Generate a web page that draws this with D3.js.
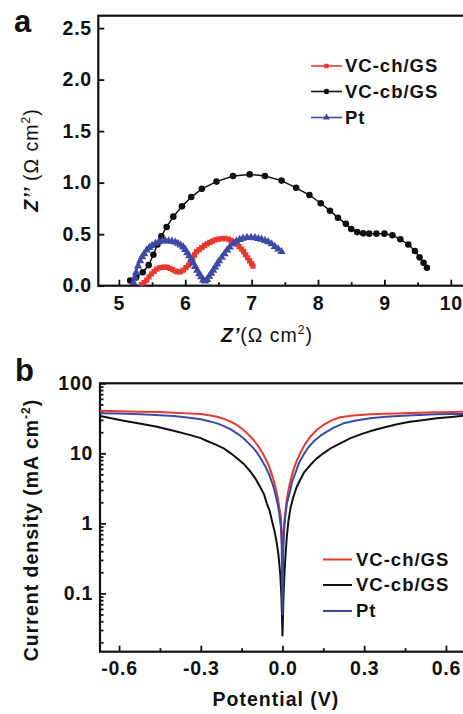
<!DOCTYPE html>
<html>
<head>
<meta charset="utf-8">
<script src="https://cdn.jsdelivr.net/npm/d3@7"></script>
<style>
  body { margin: 0; background: #fff; }
  svg { display: block; }
  text { font-family: "Liberation Sans", Arial, Helvetica, sans-serif; font-weight: bold; fill: #111; }
</style>
</head>
<body>
<svg id="chart" width="463" height="714"></svg>
<script>
// ---------- Panel a: Nyquist plots (Z' vs Z'') ----------
const seriesNames = ["VC-ch/GS", "VC-cb/GS", "Pt"];
const seriesColors = ["#e8392f", "#111111", "#3d4aa5"];

const chZre = [5.34,5.38,5.42,5.455,5.49,5.53,5.57,5.61,5.65,5.69,5.73,5.77,5.81,5.85,5.89,5.93,5.97,6.01,6.05,6.08,6.11,6.14,6.17,6.21,6.25,6.29,6.33,6.37,6.41,6.45,6.5,6.55,6.6,6.65,6.69,6.73,6.77,6.81,6.85,6.88,6.91,6.94,6.97,7.0,7.02];
const chZim = [0.01,0.03,0.055,0.085,0.115,0.14,0.16,0.172,0.178,0.18,0.177,0.168,0.155,0.142,0.135,0.137,0.152,0.175,0.2,0.235,0.265,0.3,0.33,0.35,0.37,0.39,0.405,0.42,0.432,0.445,0.452,0.457,0.458,0.452,0.44,0.425,0.405,0.38,0.355,0.33,0.3,0.27,0.24,0.215,0.19];

const cbZre = [5.17,5.26,5.36,5.45,5.52,5.58,5.64,5.72,5.82,5.95,6.09,6.25,6.47,6.72,6.97,7.2,7.45,7.67,7.87,8.04,8.18,8.30,8.42,8.50,8.59,8.68,8.77,8.88,9.0,9.12,9.24,9.36,9.46,9.53,9.59,9.64];
const cbZim = [0.05,0.08,0.13,0.2,0.3,0.4,0.48,0.57,0.67,0.77,0.86,0.94,1.01,1.065,1.08,1.065,1.02,0.95,0.88,0.80,0.728,0.66,0.60,0.55,0.52,0.508,0.505,0.505,0.505,0.49,0.45,0.40,0.337,0.275,0.223,0.175];

const ptZre = [5.22,5.24,5.26,5.29,5.32,5.35,5.38,5.42,5.46,5.5,5.55,5.6,5.65,5.7,5.75,5.8,5.85,5.89,5.93,5.97,6.0,6.03,6.06,6.09,6.12,6.15,6.18,6.21,6.24,6.27,6.3,6.33,6.36,6.39,6.42,6.45,6.48,6.51,6.55,6.59,6.63,6.67,6.72,6.77,6.82,6.87,6.93,6.99,7.05,7.1,7.15,7.2,7.25,7.3,7.35,7.4,7.45];
const ptZim = [0.03,0.08,0.13,0.19,0.24,0.28,0.31,0.345,0.37,0.39,0.41,0.425,0.432,0.435,0.434,0.43,0.422,0.41,0.395,0.375,0.35,0.32,0.29,0.255,0.22,0.185,0.15,0.115,0.085,0.055,0.045,0.06,0.09,0.12,0.15,0.18,0.21,0.24,0.275,0.31,0.345,0.375,0.405,0.43,0.448,0.46,0.466,0.468,0.465,0.458,0.45,0.438,0.425,0.405,0.38,0.355,0.33];

const zReTicks = [5, 6, 7, 8, 9, 10];
const zReMinor = [5.5, 6.5, 7.5, 8.5, 9.5];
const zImTicks = [0, 0.5, 1.0, 1.5, 2.0, 2.5];

// ---------- Panel b: Tafel polarization curves ----------
const chPotential = [-0.67,-0.6,-0.52,-0.45,-0.4,-0.35,-0.3,-0.27,-0.24,-0.215,-0.19,-0.165,-0.143,-0.125,-0.106,-0.09,-0.076,-0.063,-0.051,-0.042,-0.033,-0.025,-0.018,-0.012,-0.006,-0.003,0,0.003,0.006,0.01,0.016,0.022,0.03,0.04,0.052,0.065,0.08,0.102,0.125,0.15,0.18,0.212,0.26,0.322,0.38,0.444,0.5,0.566,0.62,0.67];
const chCurrent   = [40.5,40,39.4,38.8,38,37.2,36.4,35,33.3,31,28.3,25,21.5,18.5,15.5,12.8,10.5,8.5,6.8,5.4,4.2,3.2,2.4,1.7,1.24,0.75,0.12,0.6,1.0,1.4,2.2,3.0,4.2,5.8,7.8,10,13,17.3,21.5,25.4,29.5,32.7,34.8,36,36.8,37.3,38,38.5,39,39.4];

const cbPotential = [-0.67,-0.656,-0.583,-0.52,-0.461,-0.4,-0.338,-0.3,-0.277,-0.245,-0.216,-0.19,-0.167,-0.14,-0.118,-0.1,-0.082,-0.068,-0.057,-0.047,-0.039,-0.03,-0.022,-0.015,-0.008,-0.004,0,0.004,0.008,0.012,0.016,0.022,0.03,0.04,0.052,0.065,0.08,0.102,0.125,0.15,0.18,0.212,0.25,0.297,0.34,0.383,0.425,0.468,0.52,0.566,0.62,0.67];
const cbCurrent   = [34,33.3,29.2,26.5,24,21,18.2,16.5,15,13.3,11.8,10,8.5,6.9,5.5,4.4,3.3,2.6,1.9,1.5,1.1,0.8,0.55,0.36,0.18,0.09,0.025,0.1,0.22,0.4,0.65,1.1,1.7,2.4,3.3,4.2,5.4,6.8,8.4,10,12,13.9,16.5,19.3,21.7,24,26.2,28.3,30,31.6,33,34.5];

const ptPotential = [-0.67,-0.6,-0.52,-0.45,-0.4,-0.35,-0.3,-0.27,-0.24,-0.215,-0.19,-0.165,-0.143,-0.125,-0.106,-0.09,-0.076,-0.063,-0.051,-0.042,-0.033,-0.025,-0.018,-0.012,-0.006,-0.003,0,0.003,0.006,0.01,0.016,0.026,0.035,0.047,0.06,0.077,0.095,0.114,0.138,0.163,0.19,0.224,0.27,0.322,0.38,0.444,0.5,0.566,0.62,0.67];
const ptCurrent   = [37.5,37,36,35,34.1,32.5,30.6,28.8,26.8,24.5,22,19,16.4,14,11.8,9.8,8.0,6.5,5.2,4.2,3.3,2.5,1.9,1.4,0.9,0.5,0.05,0.45,0.8,1.24,1.9,2.7,3.9,5.2,7.2,9.5,12.2,14.7,17.7,20.4,23.5,26.8,29.5,31.6,33.2,34.5,35.3,36,36.3,36.5];

const potTicks = [-0.6, -0.3, 0, 0.3, 0.6];
const potMinor = [-0.45, -0.15, 0.15, 0.45];
const currTicks = [0.1, 1, 10, 100];
const currTickLabels = ["0.1", "1", "10", "100"];

const svg = d3.select("#chart");
const zip = (xs, ys) => xs.map((x, i) => [x, ys[i]]);

function styleAxis(g) {
  g.select(".domain").remove();
  g.selectAll(".tick line").attr("stroke", "#111").attr("stroke-width", 1.8);
  g.selectAll("text").style("font-size", "19.5px").style("letter-spacing", "0.7px").attr("fill", "#111");
}

// ===== Panel a =====
const A = { left: 98.3, right: 478, top: 15.7, bottom: 285.7 };
const xA = d3.scaleLinear().domain([4.69, 10.41]).range([A.left, A.right]);
const yA = d3.scaleLinear().domain([0, 2.62]).range([A.bottom, A.top]);

const gA = svg.append("g");
gA.append("clipPath").attr("id", "clipA").append("rect")
  .attr("x", A.left).attr("y", A.top).attr("width", A.right - A.left).attr("height", A.bottom - A.top);

gA.append("g").attr("transform", `translate(0,${A.bottom})`)
  .call(d3.axisBottom(xA).tickValues(zReTicks).tickSize(-6).tickSizeOuter(0).tickPadding(10).tickFormat(d3.format("d")))
  .call(styleAxis);
gA.append("g").attr("transform", `translate(0,${A.bottom})`)
  .call(d3.axisBottom(xA).tickValues(zReMinor).tickSize(-3.5).tickSizeOuter(0).tickFormat(""))
  .call(styleAxis);
gA.append("g").attr("transform", `translate(${A.left},0)`)
  .call(d3.axisLeft(yA).tickValues(zImTicks).tickSize(-6).tickSizeOuter(0).tickPadding(6.5).tickFormat(d3.format(".1f")))
  .call(styleAxis);

gA.append("rect").attr("x", A.left).attr("y", A.top)
  .attr("width", A.right - A.left).attr("height", A.bottom - A.top)
  .attr("fill", "none").attr("stroke", "#111").attr("stroke-width", 2.2);

const lineA = d3.line().x(d => xA(d[0])).y(d => yA(d[1]));
const nyq = [zip(chZre, chZim), zip(cbZre, cbZim), zip(ptZre, ptZim)];
const symbols = [d3.symbolSquare, d3.symbolCircle, d3.symbolTriangle];
const symSizes = [28, 34, 30];
const plotA = gA.append("g").attr("clip-path", "url(#clipA)");
[0, 1, 2].forEach(i => {
  plotA.append("path").datum(nyq[i]).attr("d", lineA)
    .attr("fill", "none").attr("stroke", seriesColors[i]).attr("stroke-width", 1.5);
  plotA.append("g").selectAll("path").data(nyq[i]).join("path")
    .attr("transform", d => `translate(${xA(d[0])},${yA(d[1])})`)
    .attr("d", d3.symbol(symbols[i], symSizes[i]))
    .attr("fill", seriesColors[i]);
});

// legend a
const legA = gA.append("g");
const legARows = [65, 90.5, 116.5];
seriesNames.forEach((name, i) => {
  const yy = legARows[i];
  legA.append("line").attr("x1", 311).attr("x2", 342).attr("y1", yy + 1).attr("y2", yy + 1)
    .attr("stroke", seriesColors[i]).attr("stroke-width", 1.6);
  legA.append("path").attr("transform", `translate(326.5,${yy + 1})`)
    .attr("d", d3.symbol(symbols[i], symSizes[i] * 0.7)).attr("fill", seriesColors[i]);
  legA.append("text").attr("x", 345).attr("y", yy + 7)
    .style("font-size", "18.5px").style("letter-spacing", "1px").text(name);
});

// axis titles a
const xTitleA = gA.append("text").attr("x", 267).attr("y", 342).attr("text-anchor", "middle")
  .style("font-size", "19.5px").style("letter-spacing", "1px");
xTitleA.append("tspan").style("font-style", "italic").text("Z’");
xTitleA.append("tspan").style("font-weight", "normal").text("(Ω cm");
xTitleA.append("tspan").style("font-weight", "normal").style("font-size", "12px").attr("dy", -8).text("2");
xTitleA.append("tspan").style("font-weight", "normal").attr("dy", 8).text(")");

const yTitleA = gA.append("text").attr("transform", "translate(38,160) rotate(-90)").attr("text-anchor", "middle")
  .style("font-size", "19.5px").style("letter-spacing", "1px");
yTitleA.append("tspan").style("font-style", "italic").text("Z’’ ");
yTitleA.append("tspan").style("font-weight", "normal").text("(Ω cm");
yTitleA.append("tspan").style("font-weight", "normal").style("font-size", "12px").attr("dy", -8).text("2");
yTitleA.append("tspan").style("font-weight", "normal").attr("dy", 8).text(")");

svg.append("text").attr("x", 14).attr("y", 32).style("font-size", "31px").text("a");

// ===== Panel b =====
const B = { left: 100, right: 465, top: 383.3, bottom: 651.7 };
const xB = d3.scaleLinear().domain([-0.67, 0.67]).range([B.left, B.right]);
const yB = d3.scaleLog().domain([0.0147, 100]).range([B.bottom, B.top]);

const gB = svg.append("g");
gB.append("clipPath").attr("id", "clipB").append("rect")
  .attr("x", B.left).attr("y", B.top).attr("width", B.right - B.left).attr("height", B.bottom - B.top);

const fmtPot = d => (Math.abs(d) < 1e-9 ? 0 : d).toFixed(1);
gB.append("g").attr("transform", `translate(0,${B.bottom})`)
  .call(d3.axisBottom(xB).tickValues(potTicks).tickSize(-6).tickSizeOuter(0).tickPadding(9.5).tickFormat(fmtPot))
  .call(styleAxis);
gB.append("g").attr("transform", `translate(0,${B.bottom})`)
  .call(d3.axisBottom(xB).tickValues(potMinor).tickSize(-3.5).tickSizeOuter(0).tickFormat(""))
  .call(styleAxis);
gB.append("g").attr("transform", `translate(${B.left},0)`)
  .call(d3.axisLeft(yB).tickValues(currTicks).tickSize(-6).tickSizeOuter(0).tickPadding(7)
    .tickFormat((d, i) => currTickLabels[i]))
  .call(styleAxis);
const logMinor = [];
[0.01, 0.1, 1, 10].forEach(dec => { for (let k = 2; k <= 9; k++) { const v = dec * k; if (v >= 0.0147 && v < 100) logMinor.push(v); } });
gB.append("g").attr("transform", `translate(${B.left},0)`)
  .call(d3.axisLeft(yB).tickValues(logMinor).tickSize(-3.5).tickSizeOuter(0).tickFormat(""))
  .call(styleAxis);

gB.append("rect").attr("x", B.left).attr("y", B.top)
  .attr("width", B.right - B.left).attr("height", B.bottom - B.top)
  .attr("fill", "none").attr("stroke", "#111").attr("stroke-width", 2.2);

const lineB = d3.line().x(d => xB(d[0])).y(d => yB(d[1]));
const tafel = [zip(chPotential, chCurrent), zip(cbPotential, cbCurrent), zip(ptPotential, ptCurrent)];
const plotB = gB.append("g").attr("clip-path", "url(#clipB)");
[0, 1, 2].forEach(i => {
  plotB.append("path").datum(tafel[i]).attr("d", lineB)
    .attr("fill", "none").attr("stroke", seriesColors[i]).attr("stroke-width", 2)
    .attr("stroke-linejoin", "round");
});

// legend b
const legB = gB.append("g");
const legBRows = [558.5, 584, 610];
seriesNames.forEach((name, i) => {
  const yy = legBRows[i];
  legB.append("line").attr("x1", 323).attr("x2", 352).attr("y1", yy + 1).attr("y2", yy + 1)
    .attr("stroke", seriesColors[i]).attr("stroke-width", 2);
  legB.append("text").attr("x", 356).attr("y", yy + 7)
    .style("font-size", "18.5px").style("letter-spacing", "1px").text(name);
});

gB.append("text").attr("x", 276).attr("y", 706).attr("text-anchor", "middle")
  .style("font-size", "19.5px").style("letter-spacing", "1px").text("Potential (V)");

const yTitleB = gB.append("text").attr("transform", "translate(38,530) rotate(-90)").attr("text-anchor", "middle")
  .style("font-size", "19.5px").style("letter-spacing", "1px");
yTitleB.append("tspan").text("Current density (mA cm");
yTitleB.append("tspan").style("font-size", "12px").attr("dy", -8).text("-2");
yTitleB.append("tspan").attr("dy", 8).text(")");

svg.append("text").attr("x", 15).attr("y", 381).style("font-size", "31px").text("b");
</script>
</body>
</html>
